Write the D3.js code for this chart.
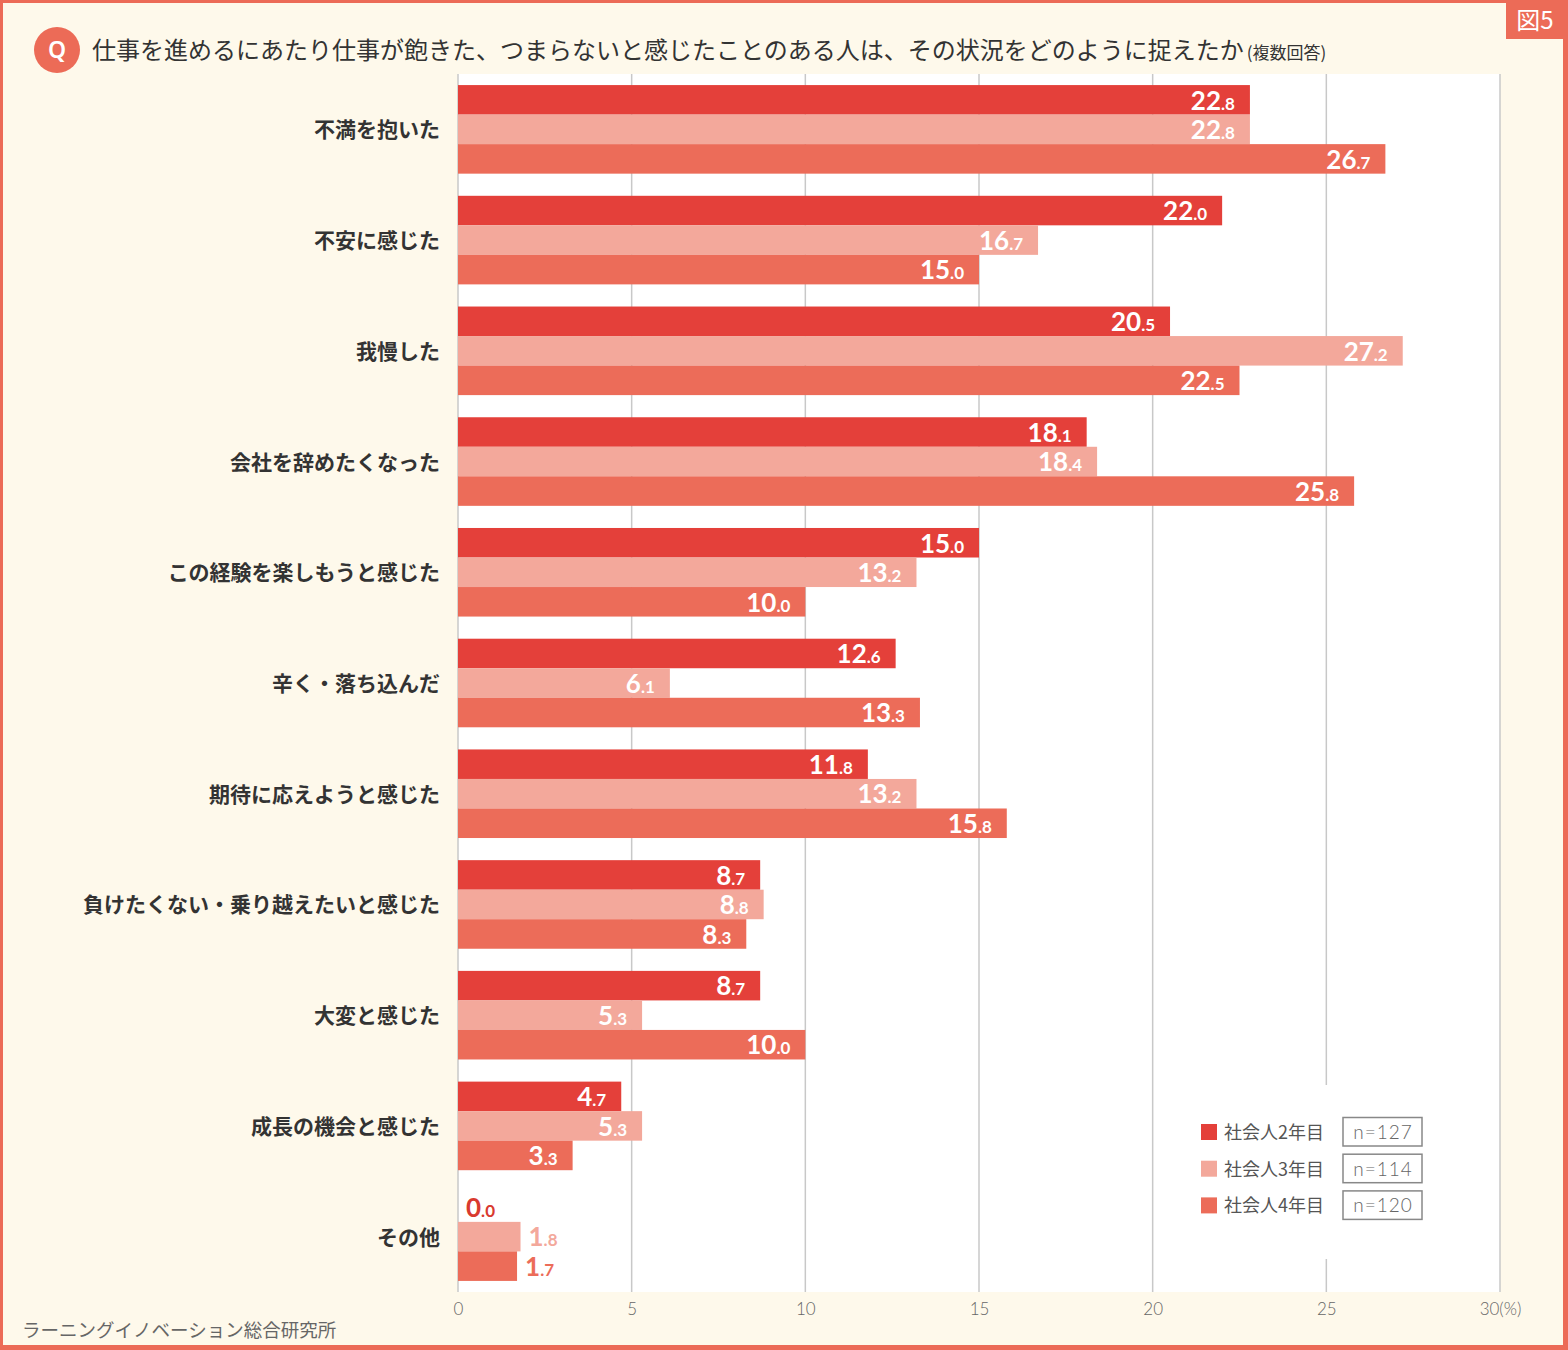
<!DOCTYPE html>
<html>
<head>
<meta charset="utf-8">
<script src="https://cdn.jsdelivr.net/npm/d3@7"></script>
<style>
  html, body { margin: 0; padding: 0; background: #fff; }
  svg { display: block; }
</style>
</head>
<body>
<svg width="1568" height="1350"></svg>
<script>
// data
var categories = [
  "不満を抱いた",
  "不安に感じた",
  "我慢した",
  "会社を辞めたくなった",
  "この経験を楽しもうと感じた",
  "辛く・落ち込んだ",
  "期待に応えようと感じた",
  "負けたくない・乗り越えたいと感じた",
  "大変と感じた",
  "成長の機会と感じた",
  "その他"
];
var seriesNames = ["社会人2年目", "社会人3年目", "社会人4年目"];
var seriesN = ["n=127", "n=114", "n=120"];
var year2 = [22.8, 22.0, 20.5, 18.1, 15.0, 12.6, 11.8, 8.7, 8.7, 4.7, 0.0];
var year3 = [22.8, 16.7, 27.2, 18.4, 13.2, 6.1, 13.2, 8.8, 5.3, 5.3, 1.8];
var year4 = [26.7, 15.0, 22.5, 25.8, 10.0, 13.3, 15.8, 8.3, 10.0, 3.3, 1.7];
var xTicks = [0, 5, 10, 15, 20, 25, 30];

var colors = ["#e4403a", "#f3a89b", "#ec6c59"];
var border = "#ec6b57";
var cream = "#fef9eb";
var jp = "'Noto Sans CJK JP', 'Noto Sans', sans-serif";
var num = "Lato, 'Noto Sans', sans-serif";

var allSeries = [year2, year3, year4];
var rows = [];
categories.forEach(function (c, i) {
  allSeries.forEach(function (s, j) {
    rows.push({ cat: c, series: j, value: s[i] });
  });
});

var svg = d3.select("svg");

// frame
svg.append("rect").attr("x", 0).attr("y", 0).attr("width", 1568).attr("height", 1350).attr("fill", border);
svg.append("rect").attr("x", 3).attr("y", 3).attr("width", 1560).attr("height", 1342).attr("fill", cream);

// tab "図5"
svg.append("rect").attr("x", 1506).attr("y", 0).attr("width", 58).attr("height", 39).attr("fill", border);
svg.append("text").attr("x", 1535).attr("y", 29).attr("text-anchor", "middle")
  .attr("font-family", jp).attr("font-size", 24).attr("fill", "#fff").text("図5");

// title
svg.append("circle").attr("cx", 57).attr("cy", 50).attr("r", 23).attr("fill", border);
svg.append("text").attr("x", 57).attr("y", 58).attr("text-anchor", "middle")
  .attr("font-family", "'Noto Sans', sans-serif").attr("font-weight", 600)
  .attr("font-size", 23).attr("fill", "#fff").text("Q");
var title = svg.append("text").attr("x", 92).attr("y", 59)
  .attr("font-family", jp).attr("font-size", 24).attr("fill", "#333");
title.append("tspan").text("仕事を進めるにあたり仕事が飽きた、つまらないと感じたことのある人は、その状況をどのように捉えたか");
title.append("tspan").attr("font-size", 17).attr("dx", 3).text("(複数回答)");

// scales
var plotLeft = 458, plotRight = 1500, plotTop = 74, plotBottom = 1292;
var x = d3.scaleLinear().domain([0, 30]).range([plotLeft, plotRight]);
var y = d3.scaleBand().domain(categories).range([plotTop, plotBottom]).paddingInner(0.2).paddingOuter(0.1);
var ySub = d3.scaleBand().domain([0, 1, 2]).range([0, y.bandwidth()]);

// plot background
svg.append("rect").attr("x", plotLeft).attr("y", plotTop)
  .attr("width", plotRight - plotLeft).attr("height", plotBottom - plotTop).attr("fill", "#fff");

// gridlines
svg.append("g").selectAll("line").data(xTicks).enter().append("line")
  .attr("x1", function (d) { return x(d); }).attr("x2", function (d) { return x(d); })
  .attr("y1", plotTop).attr("y2", plotBottom)
  .attr("stroke", "#c8c8c8").attr("stroke-width", 1.5);

// x axis labels
var xAxis = d3.axisBottom(x).tickValues(xTicks).tickSize(0).tickPadding(11)
  .tickFormat(function (d) { return d === 30 ? "30(%)" : d; });
var ax = svg.append("g").attr("transform", "translate(0," + plotBottom + ")").call(xAxis);
ax.select(".domain").remove();
ax.selectAll("text").attr("font-family", num).attr("font-weight", 300)
  .attr("font-size", 17).attr("fill", "#666");

// bars
svg.append("g").selectAll("rect").data(rows).enter().append("rect")
  .attr("x", x(0))
  .attr("y", function (d) { return y(d.cat) + ySub(d.series); })
  .attr("width", function (d) { return x(d.value) - x(0); })
  .attr("height", ySub.bandwidth())
  .attr("fill", function (d) { return colors[d.series]; });

// value labels: big integer part, small decimals
var labels = svg.append("g").selectAll("text").data(rows).enter().append("text")
  .attr("font-family", num).attr("font-weight", 700)
  .attr("y", function (d) { return y(d.cat) + ySub(d.series) + ySub.bandwidth() - 5; })
  .attr("x", function (d) { return d.value < 2 ? x(d.value) + 8 : x(d.value) - 15; })
  .attr("text-anchor", function (d) { return d.value < 2 ? "start" : "end"; })
  .attr("fill", function (d) { return d.value < 2 ? (d.series === 0 ? "#d93a2f" : colors[d.series]) : "#fff"; });
labels.append("tspan").attr("font-size", 26)
  .text(function (d) { return d.value.toFixed(1).split(".")[0]; });
labels.append("tspan").attr("font-size", 17)
  .text(function (d) { return "." + d.value.toFixed(1).split(".")[1]; });

// category labels
svg.append("g").selectAll("text").data(categories).enter().append("text")
  .attr("x", 440)
  .attr("y", function (d) { return y(d) + y.bandwidth() / 2 + 8; })
  .attr("text-anchor", "end")
  .attr("font-family", jp).attr("font-weight", 700).attr("font-size", 21).attr("fill", "#333")
  .text(function (d) { return d; });

// legend
var legend = svg.append("g");
legend.append("rect").attr("x", 1190).attr("y", 1085).attr("width", 250).attr("height", 174).attr("fill", "#fff");
seriesNames.forEach(function (name, i) {
  var cy = 1132 + i * 36.7;
  legend.append("rect").attr("x", 1201).attr("y", cy - 8).attr("width", 16).attr("height", 16).attr("fill", colors[i]);
  legend.append("text").attr("x", 1224).attr("y", cy + 7)
    .attr("font-family", jp).attr("font-size", 18).attr("fill", "#555").text(name);
  legend.append("rect").attr("x", 1343).attr("y", cy - 14.5).attr("width", 79).attr("height", 28.5)
    .attr("fill", "#fff").attr("stroke", "#888").attr("stroke-width", 1.5);
  legend.append("text").attr("x", 1383).attr("y", cy + 7).attr("text-anchor", "middle")
    .attr("font-family", num).attr("font-weight", 300).attr("font-size", 19).attr("letter-spacing", 1)
    .attr("fill", "#666").text(seriesN[i]);
});

// source
svg.append("text").attr("x", 22).attr("y", 1337)
  .attr("font-family", jp).attr("font-size", 18.5).attr("fill", "#666")
  .text("ラーニングイノベーション総合研究所");
</script>
</body>
</html>
